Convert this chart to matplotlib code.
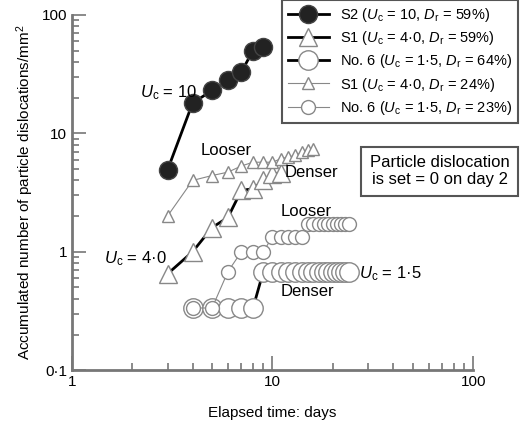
import matplotlib
matplotlib.use('Agg')
import matplotlib.pyplot as plt

plt.rcParams['font.family'] = ['Liberation Sans', 'DejaVu Sans']
plt.rcParams['mathtext.fontset'] = 'custom'
plt.rcParams['mathtext.it'] = 'Liberation Sans:italic'
plt.rcParams['mathtext.rm'] = 'Liberation Sans'

# S2, Uc=10, Dr=59%
s2_x = [3, 4, 5, 6, 7, 8, 9]
s2_y = [4.9, 18, 23, 28, 33, 50, 54]
# S1, Uc=4.0, Dr=59% (denser)
s1d_x = [3, 4, 5, 6, 7, 8, 9, 10, 11]
s1d_y = [0.65, 1.0, 1.6, 1.95, 3.3, 3.4, 4.0, 4.5, 4.6]
# No. 6, Uc=1.5, Dr=64% (denser)
n6d_x = [4, 5, 6, 7, 8] + list(range(9, 25))
n6d_y = [0.335] * 5 + [0.68] * 16
# S1, Uc=4.0, Dr=24% (looser)
s1l_x = [3, 4, 5, 6, 7, 8, 9, 10, 11, 12, 13, 14, 15, 16]
s1l_y = [2.0, 4.0, 4.4, 4.7, 5.3, 5.7, 5.7, 5.7, 6.1, 6.3, 6.5, 6.9, 7.2, 7.4]
# No. 6, Uc=1.5, Dr=23% (looser)
n6l_x = [4, 5, 6, 7, 8, 9] + list(range(10, 15)) + list(range(15, 25))
n6l_y = [0.335, 0.335, 0.68, 1.0, 1.0, 1.0] + [1.34] * 5 + [1.7] * 10

fig = plt.figure(figsize=(5.2, 4.25), dpi=100)
ax = fig.add_axes([0.138, 0.129, 0.772, 0.836])

gray = '#888888'
ax.plot(s2_x, s2_y, '-o', color='black', lw=2, ms=13, mfc='#222222', mec='#444444',
        label='S2 ($U_\\mathrm{c}$ = 10, $D_\\mathrm{r}$ = 59%)')
ax.plot(s1d_x, s1d_y, '-^', color='black', lw=2, ms=13, mfc='white', mec=gray,
        label='S1 ($U_\\mathrm{c}$ = 4·0, $D_\\mathrm{r}$ = 59%)')
ax.plot(n6d_x, n6d_y, '-o', color='black', lw=2, ms=14, mfc='white', mec=gray,
        label='No. 6 ($U_\\mathrm{c}$ = 1·5, $D_\\mathrm{r}$ = 64%)')
ax.plot(s1l_x, s1l_y, '-^', color=gray, lw=0.8, ms=9, mfc='white', mec=gray,
        label='S1 ($U_\\mathrm{c}$ = 4·0, $D_\\mathrm{r}$ = 24%)')
ax.plot(n6l_x, n6l_y, '-o', color=gray, lw=0.8, ms=10, mfc='white', mec=gray,
        label='No. 6 ($U_\\mathrm{c}$ = 1·5, $D_\\mathrm{r}$ = 23%)')

ax.set_xscale('log')
ax.set_yscale('log')
ax.set_xlim(1, 100)
ax.set_ylim(0.1, 100)
ax.set_xticks([1, 10, 100])
ax.set_xticklabels(['1', '10', '100'])
ax.set_yticks([0.1, 1, 10, 100])
ax.set_yticklabels(['0·1', '1', '10', '100'])
for s in ax.spines.values():
    s.set_color('#777777')
    s.set_linewidth(2)
ax.spines['top'].set_visible(False)
ax.spines['right'].set_visible(False)
ax.tick_params(which='both', direction='in', color='#777777', width=1.2, labelsize=11)
ax.tick_params(which='major', length=10)
ax.tick_params(which='minor', length=5)

ax.set_xlabel('Elapsed time: days', fontsize=11, labelpad=12)
ax.set_ylabel('Accumulated number of particle dislocations/mm$^2$', fontsize=11)

leg = ax.legend(loc='upper right', bbox_to_anchor=(0.997, 0.999), bbox_transform=fig.transFigure,
                fontsize=10.5, fancybox=False, edgecolor='#555555', framealpha=1,
                borderaxespad=0, handlelength=2.8, labelspacing=0.35, borderpad=0.4)
leg.get_frame().set_linewidth(1.5)

ax.text(2.2, 20, '$U_\\mathrm{c}$ = 10', fontsize=12)
ax.text(1.45, 0.8, '$U_\\mathrm{c}$ = 4·0', fontsize=12)
ax.text(27, 0.6, '$U_\\mathrm{c}$ = 1·5', fontsize=12)
ax.text(4.4, 6.6, 'Looser', fontsize=12)
ax.text(11.5, 4.3, 'Denser', fontsize=12)
ax.text(11, 2.0, 'Looser', fontsize=12)
ax.text(11, 0.42, 'Denser', fontsize=12)
ax.text(68, 4.8, 'Particle dislocation\nis set = 0 on day 2', fontsize=12, ha='center', va='center',
        bbox=dict(boxstyle='square,pad=0.5', fc='white', ec='#555555', lw=1.5))

fig.savefig('out.png', dpi=100)
